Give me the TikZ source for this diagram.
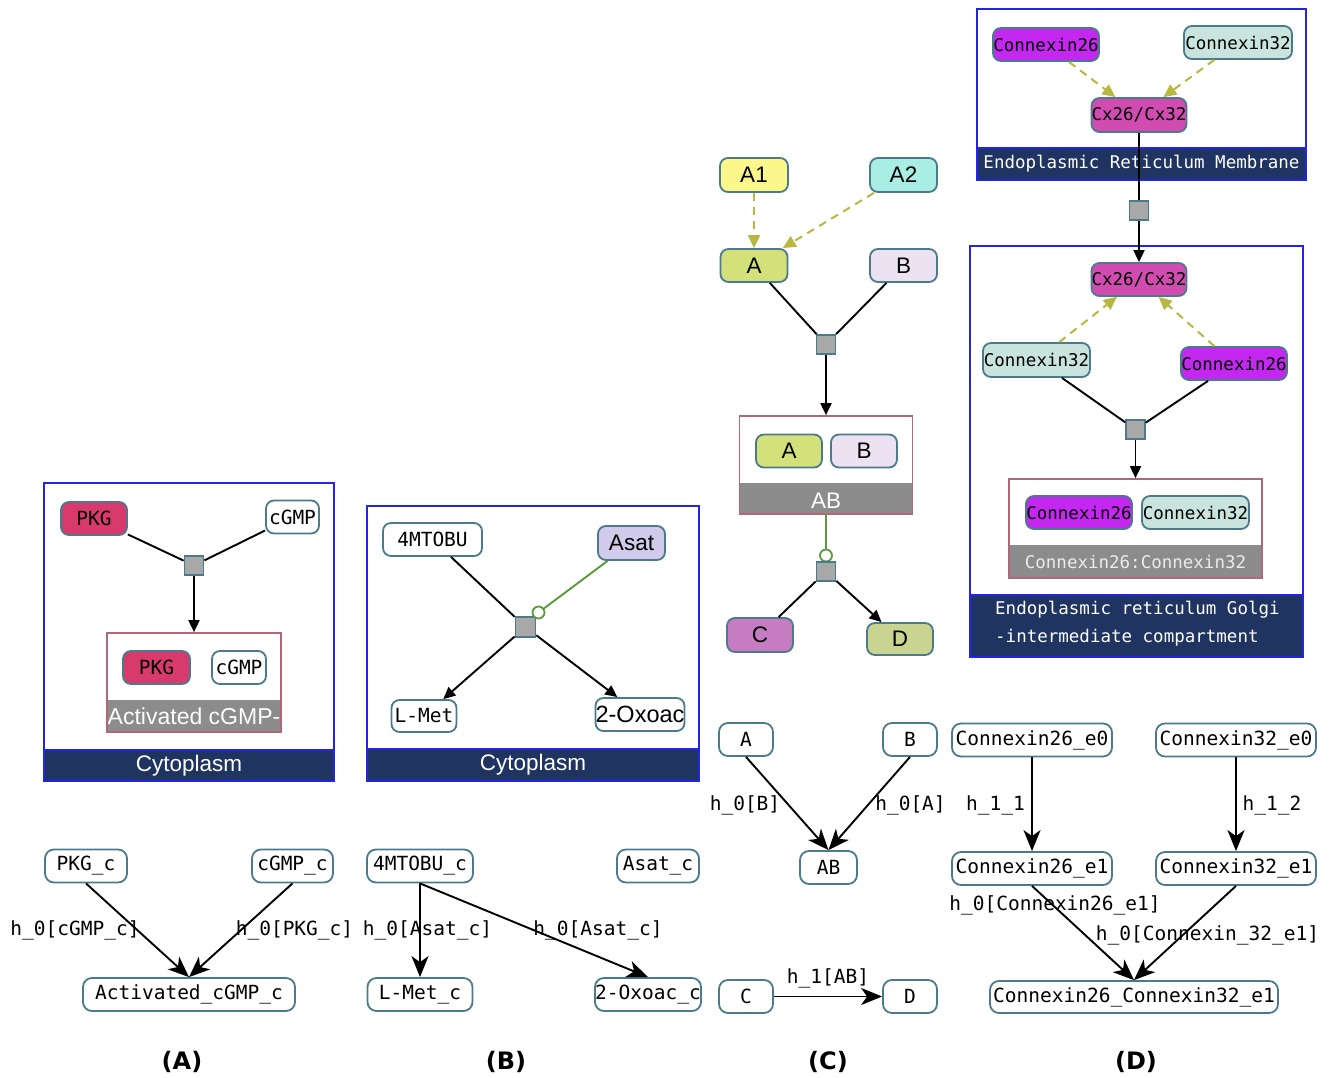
\documentclass[tikz,border=0pt]{standalone}
\usepackage{fontspec}
\setmainfont{Liberation Sans}
\setmonofont{DejaVu Sans Mono}
\newfontfamily\labfont{DejaVu Sans}
\usetikzlibrary{arrows.meta}
\definecolor{nb}{HTML}{4A7A8C}
\definecolor{compb}{HTML}{2424E6}
\definecolor{navy}{HTML}{1F3461}
\definecolor{cplxb}{HTML}{B06878}
\definecolor{bandg}{HTML}{8C8C8C}
\definecolor{sqc}{HTML}{A8A8A8}
\definecolor{grn}{HTML}{5A9A3A}
\definecolor{oliv}{HTML}{B8B840}
\definecolor{pkgc}{HTML}{D83A6E}
\definecolor{lav}{HTML}{D2CAEA}
\definecolor{yel}{HTML}{FCF78A}
\definecolor{aqua}{HTML}{A8EEE4}
\definecolor{lime}{HTML}{D4E17A}
\definecolor{pale}{HTML}{ECE2F2}
\definecolor{orch}{HTML}{C67CC0}
\definecolor{sage}{HTML}{C8D490}
\definecolor{purp}{HTML}{C428F0}
\definecolor{mint}{HTML}{C8E4DC}
\definecolor{mag}{HTML}{D04CB0}
\tikzset{
  ent/.style={draw=nb, line width=1.8pt, rounded corners=8pt, inner sep=0pt, minimum height=33pt},
  mono/.style={font=\ttfamily\fontsize{19.5}{22}\selectfont},
  monos/.style={font=\ttfamily\fontsize{17.5}{20}\selectfont},
  sans/.style={font=\fontsize{22.5}{26}\selectfont},
  sqn/.style={draw=nb, fill=sqc, line width=1.7pt, minimum size=19pt, inner sep=0pt},
  circn/.style={circle, draw=grn, fill=white, line width=1.8pt, minimum size=12pt, inner sep=0pt},
  comp/.style={draw=compb, line width=2pt},
  band/.style={draw=compb, fill=navy, line width=1.8pt, text=white, inner sep=0pt},
  cplx/.style={draw=cplxb, line width=1.7pt, inner sep=0pt},
  cband/.style={fill=bandg},
  ln/.style={line width=1.9pt},
  arr/.style={line width=1.9pt, -{Triangle[length=12pt,width=11pt]}},
  gln/.style={draw=grn, line width=1.9pt},
  dsh/.style={draw=oliv, line width=2pt, dash pattern=on 8pt off 6pt, -{Triangle[length=13pt,width=12pt,fill=oliv]}},
  gent/.style={draw=nb, fill=white, line width=1.8pt, rounded corners=9pt, inner sep=0pt, minimum height=33pt, mono},
  garr/.style={line width=1.9pt, -{Stealth[length=21pt,width=17pt,inset=6pt]}},
  elab/.style={mono, inner sep=0pt},
  plab/.style={font=\labfont\bfseries\fontsize{24}{27}\selectfont}
}
\begin{document}
\begin{tikzpicture}[x=1pt,y=-1pt]
\fill[white] (0,0) rectangle (1334,1078);
\useasboundingbox (0,0) rectangle (1334,1078);

% ================= Panel A top =================
\draw[comp] (44,483) rectangle (334,781);
\node[band, minimum width=290pt, minimum height=31pt, sans] (cytA) at (189,765.5) {Cytoplasm};
\node[cplx, minimum width=174pt, minimum height=99pt] (cplxA) at (194,682.5) {};
\fill[cband] (107.8,700) rectangle (280.2,731.2);
\begin{scope}
\clip (107.8,700) rectangle (280.2,731.2);
\node[sans, text=white, inner sep=0pt, font=\fontsize{23}{26}\selectfont] (cplxAlab) at (194,716) {Activated cGMP-};
\end{scope}
\draw[cplxb, line width=1.7pt] (107,633) rectangle (281,732);
\node[ent, fill=pkgc, minimum width=66pt, mono] (pkg) at (94,518.5) {PKG};
\node[ent, fill=white, minimum width=53pt, mono] (cgmp) at (292.5,517) {cGMP};
\node[sqn] (sqA) at (194,565.5) {};
\node[ent, fill=pkgc, minimum width=67pt, mono] (pkg2) at (156.5,667.5) {PKG};
\node[ent, fill=white, minimum width=54pt, mono] (cgmp2) at (239,667.5) {cGMP};
\draw[ln] (pkg) -- (sqA);
\draw[ln] (cgmp) -- (sqA);
\draw[arr] (sqA) -- (cplxA.north);

% ================= Panel B top =================
\draw[comp] (367,506) rectangle (699,781);
\node[band, minimum width=332pt, minimum height=32pt, sans] (cytB) at (533,765) {Cytoplasm};
\node[ent, fill=white, minimum width=99pt, mono] (mtobu) at (432.5,539.5) {4MTOBU};
\node[ent, fill=lav, minimum width=67pt, minimum height=34pt, sans] (asat) at (631.5,543) {Asat};
\node[sqn, minimum size=20pt] (sqB) at (525.5,627) {};
\node[circn] (circB) at (538.5,612.5) {};
\node[ent, fill=white, minimum width=65pt, minimum height=32pt, mono] (lmet) at (424,716) {L-Met};
\node[ent, fill=white, minimum width=89pt, sans, font=\fontsize{23.5}{26}\selectfont] (oxo) at (640,714.5) {2-Oxoac};
\draw[ln] (mtobu) -- (sqB);
\draw[gln] (asat) -- (circB);
\draw[arr] (sqB) -- (lmet);
\draw[arr] (sqB) -- (oxo);

% ================= Panel C top =================
\node[ent, fill=yel, minimum width=68pt, minimum height=34pt, sans] (a1) at (754,175) {A1};
\node[ent, fill=aqua, minimum width=67pt, minimum height=34pt, sans] (a2) at (903.5,175) {A2};
\node[ent, fill=lime, minimum width=67pt, sans] (a) at (754,265.5) {A};
\node[ent, fill=pale, minimum width=67pt, sans] (b) at (903.5,265.5) {B};
\node[sqn] (sqC1) at (826,344.5) {};
\node[cplx, minimum width=173pt, minimum height=98pt] (cplxC) at (826,465) {};
\fill[cband] (739.8,483) rectangle (912.2,513.2);
\node[sans, text=white, inner sep=0pt] (cplxClab) at (826,501) {AB};
\draw[cplxb, line width=1.7pt] (739.5,416) rectangle (912.5,514);
\node[ent, fill=lime, minimum width=66pt, sans] (ca) at (789,451) {A};
\node[ent, fill=pale, minimum width=66pt, sans] (cb) at (864,451) {B};
\node[circn] (circC) at (826,555.5) {};
\node[sqn] (sqC2) at (826,571.5) {};
\node[ent, fill=orch, minimum width=66pt, minimum height=34pt, sans] (c) at (760,635) {C};
\node[ent, fill=sage, minimum width=66pt, minimum height=32pt, sans] (d) at (900,639) {D};
\draw[dsh] (a1) -- (a);
\draw[dsh] (a2) -- (a);
\draw[ln] (a) -- (sqC1);
\draw[ln] (b) -- (sqC1);
\draw[arr] (sqC1) -- (cplxC.north);
\draw[gln] (cplxC.south) -- (circC);
\draw[ln] (sqC2) -- (c);
\draw[arr] (sqC2) -- (d);

% ================= Panel D top =================
\draw[comp] (977,9) rectangle (1306,180);
\node[band, minimum width=329pt, minimum height=32pt, monos] (erlab) at (1141.5,164) {Endoplasmic Reticulum Membrane};
\draw[comp] (970,246) rectangle (1303,657);
\node[band, minimum width=333pt, minimum height=62pt] (golgiband) at (1136.5,626) {};
\node[monos, text=white, anchor=west, align=left, inner sep=0pt, font=\ttfamily\fontsize{17.5}{28}\selectfont] (golgilab) at (995,624) {Endoplasmic reticulum Golgi\\-intermediate compartment};
\node[cplx, minimum width=253pt, minimum height=99pt] (cplxD) at (1135.5,528.5) {};
\fill[cband] (1009.8,545) rectangle (1261.2,577.2);
\node[monos, text=white!92!black, inner sep=0pt] (cplxDlab) at (1135.5,562) {Connexin26:Connexin32};
\draw[cplxb, line width=1.7pt] (1009,479) rectangle (1262,578);
\node[ent, fill=purp, minimum width=106pt, monos] (c26) at (1046,44.5) {Connexin26};
\node[ent, fill=mint, minimum width=108pt, monos] (c32) at (1238,42.5) {Connexin32};
\node[ent, fill=mag, minimum width=95pt, minimum height=34pt, monos] (cx) at (1139,115) {Cx26/Cx32};
\node[sqn] (sqD1) at (1139,210.5) {};
\node[ent, fill=mag, minimum width=95pt, monos] (cx2) at (1139,279.5) {Cx26/Cx32};
\node[ent, fill=mint, minimum width=107pt, minimum height=34pt, monos] (g32) at (1036.5,360) {Connexin32};
\node[ent, fill=purp, minimum width=106pt, monos] (g26) at (1234,363.5) {Connexin26};
\node[sqn] (sqD2) at (1135.5,429.5) {};
\node[ent, fill=purp, minimum width=106pt, monos] (i26) at (1079,512.5) {Connexin26};
\node[ent, fill=mint, minimum width=107pt, monos] (i32) at (1195.5,512.5) {Connexin32};
\draw[dsh] (c26) -- (cx);
\draw[dsh] (c32) -- (cx);
\draw[ln] (cx) -- (sqD1);
\draw[arr] (sqD1) -- (cx2);
\draw[dsh] (g32) -- (cx2);
\draw[dsh] (g26) -- (cx2);
\draw[ln] (g32) -- (sqD2);
\draw[ln] (g26) -- (sqD2);
\draw[arr] (sqD2) -- (cplxD.north);

% ================= Bottom graphs =================
% A
\node[gent, minimum width=82pt] (pkgc) at (86,866) {PKG\_c};
\node[gent, minimum width=81pt] (cgmpc) at (292.5,866) {cGMP\_c};
\node[gent, minimum width=212pt] (actc) at (189,994.5) {Activated\_cGMP\_c};
\draw[garr] (pkgc.south) -- (actc.north);
\draw[garr] (cgmpc.south) -- (actc.north);
\node[elab] (la1) at (75,930) {h\_0[cGMP\_c]};
\node[elab] (la2) at (294.5,930) {h\_0[PKG\_c]};
% B
\node[gent, minimum width=106pt] (mtobuc) at (420,866) {4MTOBU\_c};
\node[gent, minimum width=82pt] (asatc) at (658,866) {Asat\_c};
\node[gent, minimum width=105pt] (lmetc) at (420,994.5) {L-Met\_c};
\node[gent, minimum width=106pt] (oxoc) at (648,994.5) {2-Oxoac\_c};
\draw[garr] (mtobuc.south) -- (lmetc.north);
\draw[garr] (mtobuc.south) -- (oxoc.north);
\node[elab] (lb1) at (427.5,930) {h\_0[Asat\_c]};
\node[elab] (lb2) at (598,930) {h\_0[Asat\_c]};
% C
\node[gent, minimum width=54pt] (ac) at (746,739.5) {A};
\node[gent, minimum width=54pt] (bc) at (910,739.5) {B};
\node[gent, minimum width=57pt] (abc) at (828.5,867.5) {AB};
\node[gent, minimum width=54pt] (cc) at (746,996.5) {C};
\node[gent, minimum width=54pt] (dc) at (910,996.5) {D};
\draw[garr] (ac.south) -- (abc.north);
\draw[garr] (bc.south) -- (abc.north);
\draw[garr] (cc) -- (dc);
\node[elab] (lc1) at (745,805) {h\_0[B]};
\node[elab] (lc2) at (910.5,805) {h\_0[A]};
\node[elab] (lc3) at (828,978) {h\_1[AB]};
% D
\node[gent, minimum width=160pt] (e26) at (1032,740) {Connexin26\_e0};
\node[gent, minimum width=160pt] (e32) at (1236,740) {Connexin32\_e0};
\node[gent, minimum width=160pt] (f26) at (1032,868.5) {Connexin26\_e1};
\node[gent, minimum width=160pt] (f32) at (1236,868.5) {Connexin32\_e1};
\node[gent, minimum width=288pt, minimum height=32pt] (gg) at (1134,997) {Connexin26\_Connexin32\_e1};
\draw[garr] (e26) -- (f26);
\draw[garr] (e32) -- (f32);
\draw[garr] (f26.south) -- (gg.north);
\draw[garr] (f32.south) -- (gg.north);
\node[elab] (ld1) at (995.5,805) {h\_1\_1};
\node[elab] (ld2) at (1272,805) {h\_1\_2};
\node[elab] (ld3) at (1055,905) {h\_0[Connexin26\_e1]};
\node[elab] (ld4) at (1207.5,935) {h\_0[Connexin\_32\_e1]};

% ================= Panel labels =================
\node[plab] (pa) at (182,1062) {(A)};
\node[plab] (pb) at (506,1062) {(B)};
\node[plab] (pc) at (828,1062) {(C)};
\node[plab] (pd) at (1136,1062) {(D)};
\end{tikzpicture}
\end{document}
